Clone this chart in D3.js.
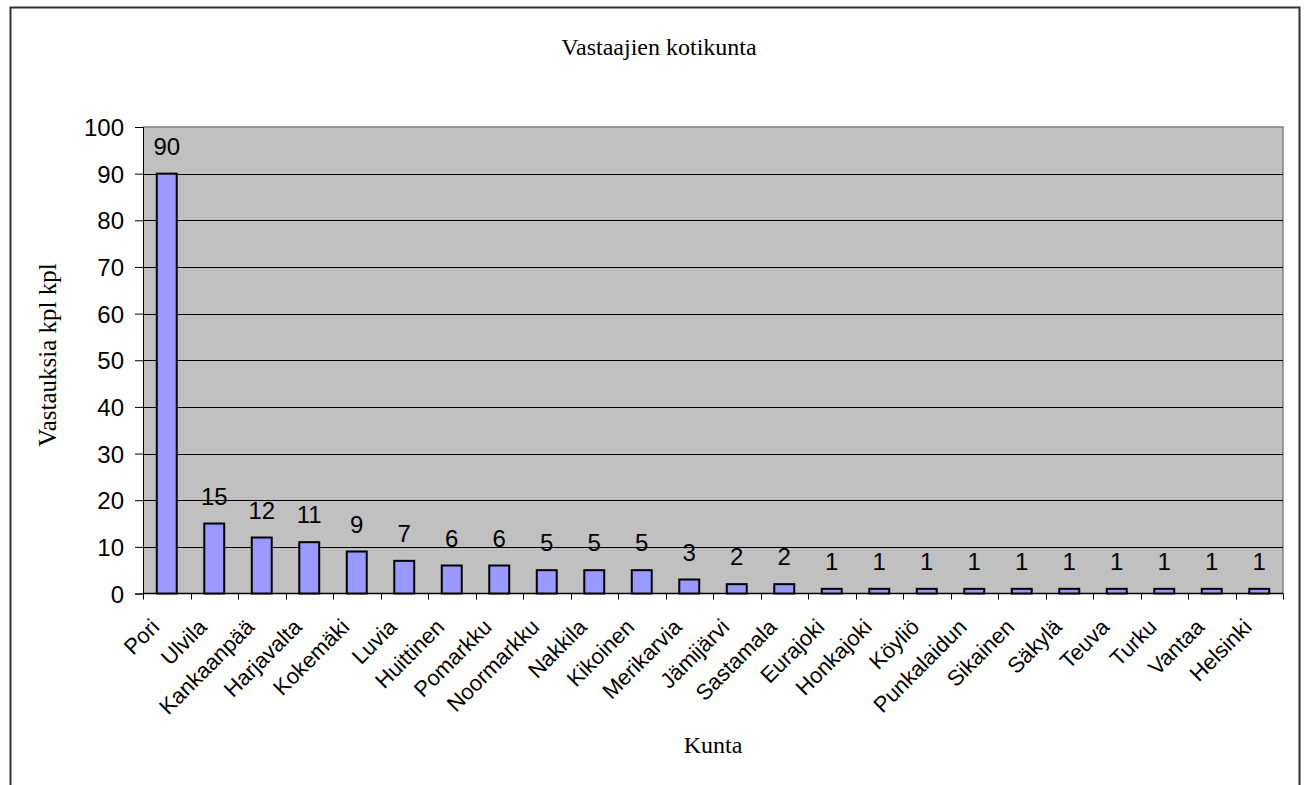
<!DOCTYPE html>
<html><head><meta charset="utf-8">
<script src="https://cdn.jsdelivr.net/npm/d3@7"></script>
<style>body{margin:0;background:#fff}svg{display:block}</style>
</head><body>
<svg id="c" width="1307" height="785"></svg>
<script>
const categories = ["Pori","Ulvila","Kankaanpää","Harjavalta","Kokemäki","Luvia","Huittinen","Pomarkku","Noormarkku","Nakkila","Kikoinen","Merikarvia","Jämijärvi","Sastamala","Eurajoki","Honkajoki","Köyliö","Punkalaidun","Sikainen","Säkylä","Teuva","Turku","Vantaa","Helsinki"];
const values = [90,15,12,11,9,7,6,6,5,5,5,3,2,2,1,1,1,1,1,1,1,1,1,1];
const yTicks = [0,10,20,30,40,50,60,70,80,90,100];
const title = "Vastaajien kotikunta";
const yTitle = "Vastauksia kpl kpl";
const xTitle = "Kunta";

const svg = d3.select("#c");
const L = 143, R = 1283, T = 127, B = 593.5;
const x = d3.scaleBand().domain(categories).range([L, R]).paddingInner(0.58).paddingOuter(0.29);
const xb = d3.scaleBand().domain(categories).range([L, R]);
const y = d3.scaleLinear().domain([0, 100]).range([B, T]);

// outer frame
svg.append("path").attr("d", `M10.5,785 V7.5 H1299.5 V785`).attr("fill","none").attr("stroke","#333").attr("stroke-width",2);

// plot area
svg.append("rect").attr("x", L).attr("y", T).attr("width", R - L).attr("height", B - T).attr("fill", "#c0c0c0");
svg.append("path").attr("d", `M${L},${T} H${R} V${B}`).attr("fill","none").attr("stroke","#808080").attr("stroke-width",1.5);

// gridlines
svg.append("g").selectAll("line").data(yTicks.filter(d => d > 0 && d < 100)).join("line")
  .attr("x1", L).attr("x2", R).attr("y1", d => Math.round(y(d)) + 0.5).attr("y2", d => Math.round(y(d)) + 0.5)
  .attr("stroke", "#000").attr("stroke-width", 1);

// y axis
const yAxis = d3.axisLeft(y).tickValues(yTicks).tickSize(8).tickPadding(11);
const gy = svg.append("g").attr("transform", `translate(${L},0)`).call(yAxis);
gy.select(".domain").attr("stroke", "#000");
gy.selectAll("text").attr("font-family", "Liberation Sans, Arial, sans-serif").attr("font-size", 24).attr("fill", "#000").attr("dy", "0.36em");

// x axis
const gx = svg.append("g").attr("transform", `translate(0,${B})`);
gx.append("line").attr("x1", L).attr("x2", R).attr("stroke", "#000").attr("stroke-width", 1.5);
const bounds = categories.map(c => xb(c)).concat([R]);
gx.selectAll("line.tk").data(bounds).join("line").attr("class","tk")
  .attr("x1", d => Math.round(d) + 0.5).attr("x2", d => Math.round(d) + 0.5).attr("y1", 0).attr("y2", 6).attr("stroke", "#000");
gx.selectAll("text").data(categories).join("text")
  .attr("transform", d => `translate(${xb(d) + xb.bandwidth()/2 - 17},${24}) rotate(-45)`)
  .attr("text-anchor", "end").attr("dy", "0.7em")
  .attr("font-family", "Liberation Sans, Arial, sans-serif").attr("font-size", 22).attr("fill", "#000")
  .text(d => d);

// bars
svg.append("g").selectAll("rect").data(values).join("rect")
  .attr("x", (d, i) => x(categories[i])).attr("width", x.bandwidth())
  .attr("y", d => y(d)).attr("height", d => B - y(d))
  .attr("fill", "#9999ff").attr("stroke", "#000").attr("stroke-width", 2);

// value labels
svg.append("g").selectAll("text").data(values).join("text")
  .attr("x", (d, i) => x(categories[i]) + x.bandwidth()/2).attr("y", d => y(d) - 19)
  .attr("text-anchor", "middle").attr("font-family", "Liberation Sans, Arial, sans-serif").attr("font-size", 24).attr("fill", "#000")
  .text(d => d);

// titles
svg.append("text").attr("x", 659).attr("y", 55).attr("text-anchor", "middle")
  .attr("font-family", "Liberation Serif, Times New Roman, serif").attr("font-size", 24).text(title);
svg.append("text").attr("x", (L + R) / 2).attr("y", 753).attr("text-anchor", "middle")
  .attr("font-family", "Liberation Serif, Times New Roman, serif").attr("font-size", 24).text(xTitle);
svg.append("text").attr("transform", `translate(56,355) rotate(-90)`).attr("text-anchor", "middle")
  .attr("font-family", "Liberation Serif, Times New Roman, serif").attr("font-size", 25).text(yTitle);
</script>
</body></html>
